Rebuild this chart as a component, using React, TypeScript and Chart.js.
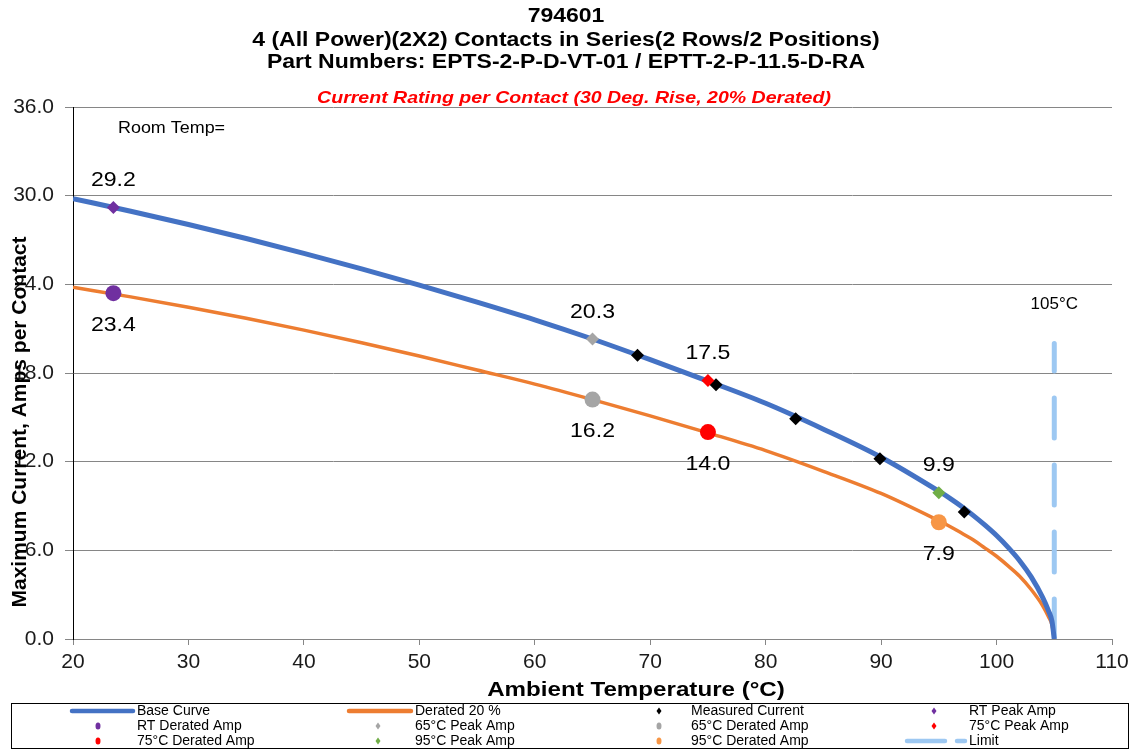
import React, { useEffect, useRef } from "react";
import { Chart, registerables } from "chart.js";

Chart.register(...registerables);

// ---------- DATA ----------
const curveTemps = [20, 25, 30, 35, 40, 45, 50, 55, 60, 65, 70, 75, 80, 85, 90, 95, 96, 97, 98, 99, 100, 101, 102, 103, 104, 104.5, 104.8, 105];
const baseCurve = [29.8, 28.95, 28.05, 27.1, 26.1, 25.05, 23.95, 22.8, 21.6, 20.3, 18.9, 17.45, 15.95, 14.2, 12.3, 10.0, 9.5, 8.95, 8.35, 7.7, 7.0, 6.2, 5.3, 4.2, 2.8, 1.9, 1.2, 0];
const deratedCurve = [23.8, 23.15, 22.45, 21.7, 20.9, 20.05, 19.15, 18.2, 17.25, 16.2, 15.1, 13.95, 12.75, 11.35, 9.85, 8.0, 7.6, 7.15, 6.7, 6.15, 5.6, 4.95, 4.25, 3.35, 2.25, 1.5, 0.95, 0];

const measuredTemps = [68.9, 75.7, 82.6, 89.9, 97.2];
const measuredCurrent = [19.2, 17.2, 14.9, 12.2, 8.6];

const peakTemps = [23.5, 65, 75, 95];
const peakAmps = [29.2, 20.3, 17.5, 9.9];
const deratedAmps = [23.4, 16.2, 14.0, 7.9];
const peakNames = ["RT Peak Amp", "65°C Peak Amp", "75°C Peak Amp", "95°C Peak Amp"];
const deratedNames = ["RT Derated Amp", "65°C Derated Amp", "75°C Derated Amp", "95°C Derated Amp"];
const peakColors = ["#7030A0", "#A5A5A5", "#FF0000", "#70AD47"];
const deratedColors = ["#7030A0", "#A5A5A5", "#FF0000", "#F79646"];

const limitTemps = [105, 105];
const limitAmps = [0, 20];

const xTickMin = 20;
const xTickMax = 110;
const xTickStep = 10;
const yTickMin = 0;
const yTickMax = 36;
const yTickStep = 6;

const titleLines = [
  "794601",
  "4 (All Power)(2X2) Contacts in Series(2 Rows/2 Positions)",
  "Part Numbers: EPTS-2-P-D-VT-01 / EPTT-2-P-11.5-D-RA",
];
const subTitle = "Current Rating per Contact (30 Deg. Rise, 20% Derated)";
const xTitle = "Ambient Temperature (°C)";
const yTitle = "Maximum Current, Amps per Contact";
const roomTempNote = "Room Temp=";
const limitNote = "105°C";

const FONT = "'Liberation Sans', Arial, sans-serif";

function pts(xs: number[], ys: number[]) {
  return xs.map((x, i) => ({ x, y: ys[i] }));
}

function drawText(
  ctx: CanvasRenderingContext2D,
  text: string,
  x: number,
  y: number,
  font: string,
  align: CanvasTextAlign,
  sx: number,
  color: string
) {
  ctx.save();
  ctx.font = font;
  ctx.fillStyle = color;
  ctx.textAlign = align;
  ctx.textBaseline = "middle";
  ctx.translate(x, y);
  ctx.scale(sx, 1);
  ctx.fillText(text, 0, 0);
  ctx.restore();
}

export default function App() {
  const ref = useRef<HTMLCanvasElement | null>(null);

  useEffect(() => {
    const canvas = ref.current;
    if (!canvas) return;

    const datasets: any[] = [
      {
        label: "Base Curve",
        data: pts(curveTemps, baseCurve),
        showLine: true,
        borderColor: "#4472C4",
        backgroundColor: "#4472C4",
        borderWidth: 5,
        pointRadius: 0,
        cubicInterpolationMode: "monotone",
        order: 10,
        legendKind: "line",
      },
      {
        label: "Derated 20 %",
        data: pts(curveTemps, deratedCurve),
        showLine: true,
        borderColor: "#ED7D31",
        backgroundColor: "#ED7D31",
        borderWidth: 3.5,
        pointRadius: 0,
        cubicInterpolationMode: "monotone",
        order: 11,
        legendKind: "line",
      },
      {
        label: "Measured Current",
        data: pts(measuredTemps, measuredCurrent),
        showLine: false,
        pointStyle: "rectRot",
        pointRadius: 6.5,
        backgroundColor: "#000000",
        borderColor: "#000000",
        borderWidth: 0,
        order: 1,
        legendKind: "diamond",
      },
    ];
    for (let i = 0; i < peakTemps.length; i++) {
      datasets.push({
        label: peakNames[i],
        data: [{ x: peakTemps[i], y: peakAmps[i] }],
        showLine: false,
        pointStyle: "rectRot",
        pointRadius: 6.5,
        backgroundColor: peakColors[i],
        borderColor: peakColors[i],
        borderWidth: 0,
        order: 0,
        legendKind: "diamond",
        labelPos: "above",
      });
      datasets.push({
        label: deratedNames[i],
        data: [{ x: peakTemps[i], y: deratedAmps[i] }],
        showLine: false,
        pointStyle: "circle",
        pointRadius: 8,
        backgroundColor: deratedColors[i],
        borderColor: deratedColors[i],
        borderWidth: 0,
        order: 0,
        legendKind: "circle",
        labelPos: "below",
      });
    }
    datasets.push({
      label: "Limit",
      data: pts(limitTemps, limitAmps),
      showLine: true,
      borderColor: "#9DC8F2",
      backgroundColor: "#9DC8F2",
      borderWidth: 5,
      borderDash: [40, 27],
      borderCapStyle: "round",
      pointRadius: 0,
      order: 12,
      legendKind: "dash",
    });

    const textPlugin = {
      id: "textPlugin",
      afterDraw(chart: any) {
        const ctx = chart.ctx as CanvasRenderingContext2D;
        ctx.save();
        // titles
        const ty = [16, 40, 62];
        titleLines.forEach((t, i) => drawText(ctx, t, 566, ty[i], `bold 20px ${FONT}`, "center", 1.15, "#000"));
        drawText(ctx, subTitle, 574, 98, `italic bold 17px ${FONT}`, "center", 1.15, "#FF0000");
        // axis titles
        drawText(ctx, xTitle, 636, 690, `bold 21px ${FONT}`, "center", 1.15, "#000");
        ctx.save();
        ctx.translate(20, 422);
        ctx.rotate(-Math.PI / 2);
        drawText(ctx, yTitle, 0, 0, `bold 21px ${FONT}`, "center", 1.0, "#000");
        ctx.restore();
        // notes
        drawText(ctx, roomTempNote, 118, 129, `16px ${FONT}`, "left", 1.12, "#000");
        const xs = chart.scales.x;
        drawText(ctx, limitNote, xs.getPixelForValue(limitTemps[0]), 305, `16px ${FONT}`, "center", 1.06, "#000");
        // data labels
        chart.data.datasets.forEach((ds: any, di: number) => {
          if (!ds.labelPos) return;
          const meta = chart.getDatasetMeta(di);
          meta.data.forEach((el: any, j: number) => {
            const v = ds.data[j].y;
            const off = ds.labelPos === "above" ? -27 : 32;
            drawText(ctx, v.toFixed(1), el.x, el.y + off, `21px ${FONT}`, "center", 1.1, "#000");
          });
        });
        // legend
        const boxL = 11, boxT = 703, boxR = 1128, boxB = 748;
        ctx.strokeStyle = "#000";
        ctx.lineWidth = 1;
        ctx.strokeRect(boxL + 0.5, boxT + 0.5, boxR - boxL, boxB - boxT);
        const colMarker = [98, 378, 659, 934];
        const colText = [137, 415, 691, 969];
        const lineSeg = [[72, 133], [349, 411], [0, 0], [907, 965]];
        const rowY = [711, 726, 741];
        chart.data.datasets.forEach((ds: any, i: number) => {
          const col = i % 4;
          const row = Math.floor(i / 4);
          const y = rowY[row];
          drawText(ctx, ds.label, colText[col], y, `14px ${FONT}`, "left", 1.0, "#000");
          const c = ds.borderColor;
          if (ds.legendKind === "line" || ds.legendKind === "dash") {
            ctx.strokeStyle = c;
            ctx.lineWidth = 4.5;
            ctx.lineCap = "round";
            if (ds.legendKind === "dash") ctx.setLineDash([38, 12]);
            ctx.beginPath();
            ctx.moveTo(lineSeg[col][0], y);
            ctx.lineTo(lineSeg[col][1], y);
            ctx.stroke();
            ctx.setLineDash([]);
          } else if (ds.legendKind === "diamond") {
            const x = colMarker[col];
            ctx.fillStyle = ds.backgroundColor;
            ctx.beginPath();
            ctx.moveTo(x, y - 3.5);
            ctx.lineTo(x + 2.5, y);
            ctx.lineTo(x, y + 3.5);
            ctx.lineTo(x - 2.5, y);
            ctx.closePath();
            ctx.fill();
          } else if (ds.legendKind === "circle") {
            const x = colMarker[col];
            ctx.fillStyle = ds.backgroundColor;
            ctx.beginPath();
            ctx.ellipse(x, y, 2.5, 3.5, 0, 0, Math.PI * 2);
            ctx.fill();
          }
        });
        ctx.restore();
      },
    };

    const chart = new Chart(canvas, {
      type: "scatter",
      data: { datasets },
      options: {
        animation: false,
        responsive: false,
        maintainAspectRatio: false,
        layout: { padding: { left: 0, top: 107, right: 24, bottom: 0 } },
        plugins: {
          legend: { display: false },
          title: { display: false },
          tooltip: { enabled: false },
        },
        scales: {
          x: {
            type: "linear",
            min: xTickMin,
            max: xTickMax,
            afterFit: (s: any) => {
              s.height = 112;
            },
            ticks: {
              stepSize: xTickStep,
              color: "#1a1a1a",
              font: { family: FONT, size: 21 },
              padding: 5,
              maxRotation: 0,
            },
            grid: {
              drawOnChartArea: false,
              drawTicks: true,
              tickLength: 6,
              color: "#868686",
            },
            border: { color: "#868686", width: 1 },
          },
          y: {
            type: "linear",
            min: yTickMin,
            max: yTickMax,
            afterFit: (s: any) => {
              s.width = 73;
            },
            ticks: {
              stepSize: yTickStep,
              color: "#1a1a1a",
              font: { family: FONT, size: 21 },
              padding: 11,
              callback: (v: any) => Number(v).toFixed(1),
            },
            grid: {
              color: "#868686",
              tickLength: 8,
              drawTicks: true,
            },
            border: { color: "#000000", width: 1 },
          },
        },
      },
      plugins: [textPlugin],
    } as any);

    return () => chart.destroy();
  }, []);

  return (
    <div style={{ position: "absolute", left: 0, top: 0, width: 1136, height: 751, background: "#fff" }}>
      <canvas ref={ref} width={1136} height={751} style={{ display: "block", width: 1136, height: 751 }} />
    </div>
  );
}
